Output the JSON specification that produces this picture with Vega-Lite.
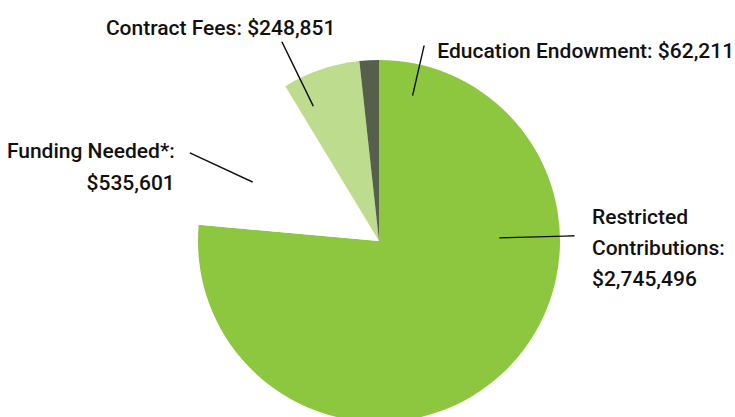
{
  "$schema": "https://vega.github.io/schema/vega-lite/v6.json",
  "width": 712,
  "height": 352,
  "autosize": {"type": "none"},
  "padding": {"left": 23, "top": 65, "right": 0, "bottom": 0},
  "background": "white",
  "view": {"stroke": null},
  "config": {
    "text": {"font": "Roboto", "fontSize": 21, "fontWeight": 500, "lineBreak": "\n", "lineHeight": 31, "color": "#111111"}
  },
  "data": {
    "values": [
      {"category": "Restricted Contributions", "value": 2745496, "label": "Restricted\nContributions:\n$2,745,496", "rank": 1},
      {"category": "Funding Needed*", "value": 535601, "label": "Funding Needed*:\n$535,601", "rank": 2},
      {"category": "Contract Fees", "value": 248851, "label": "Contract Fees: $248,851", "rank": 3},
      {"category": "Education Endowment", "value": 62211, "label": "Education Endowment: $62,211", "rank": 4}
    ]
  },
  "transform": [
    {"stack": "value", "groupby": [], "sort": [{"field": "rank", "order": "ascending"}], "as": ["start", "end"]}
  ],
  "layer": [
    {
      "mark": {"type": "arc", "radius": 181},
      "encoding": {
        "theta": {"field": "value", "type": "quantitative", "stack": true, "scale": {"nice": false, "zero": true}},
        "order": {"field": "rank", "type": "quantitative"},
        "color": {
          "field": "category", "type": "nominal", "legend": null,
          "scale": {
            "domain": ["Restricted Contributions", "Funding Needed*", "Contract Fees", "Education Endowment"],
            "range": ["#8dc63f", "#ffffff", "#bddc8e", "#555f4c"]
          }
        }
      }
    },
    {
      "transform": [{"filter": "datum.category == 'Restricted Contributions'"}],
      "mark": {"type": "arc", "radius": 195, "radius2": 121, "thetaOffset": 1.54462, "theta2Offset": -3.2576, "fill": "transparent", "stroke": "#111111", "strokeWidth": 1.4},
      "encoding": {"theta": {"field": "start", "type": "quantitative"}, "theta2": {"field": "end"}}
    },
    {
      "transform": [{"filter": "datum.category == 'Funding Needed*'"}],
      "mark": {"type": "arc", "radius": 208, "radius2": 140, "thetaOffset": 0.3465, "theta2Offset": -0.59035, "fill": "transparent", "stroke": "#111111", "strokeWidth": 1.4},
      "encoding": {"theta": {"field": "start", "type": "quantitative"}, "theta2": {"field": "end"}}
    },
    {
      "transform": [{"filter": "datum.category == 'Contract Fees'"}],
      "mark": {"type": "arc", "radius": 221, "radius2": 150, "thetaOffset": 0.09058, "theta2Offset": -0.3447, "fill": "transparent", "stroke": "#111111", "strokeWidth": 1.4},
      "encoding": {"theta": {"field": "start", "type": "quantitative"}, "theta2": {"field": "end"}}
    },
    {
      "transform": [{"filter": "datum.category == 'Education Endowment'"}],
      "mark": {"type": "arc", "radius": 200, "radius2": 150, "thetaOffset": 0.33571, "theta2Offset": 0.22689, "fill": "transparent", "stroke": "#111111", "strokeWidth": 1.4},
      "encoding": {"theta": {"field": "start", "type": "quantitative"}, "theta2": {"field": "end"}}
    },
    {
      "transform": [{"filter": "datum.category == 'Restricted Contributions'"}],
      "mark": {"type": "text", "radius": 190, "align": "left", "baseline": "alphabetic", "dx": 213, "dy": 173},
      "encoding": {"theta": {"field": "start", "type": "quantitative"}, "text": {"field": "label"}}
    },
    {
      "transform": [{"filter": "datum.category == 'Funding Needed*'"}],
      "mark": {"type": "text", "radius": 190, "align": "right", "baseline": "alphabetic", "dx": -15, "dy": -66, "lineHeight": 32},
      "encoding": {"theta": {"field": "start", "type": "quantitative"}, "text": {"field": "label"}}
    },
    {
      "transform": [{"filter": "datum.category == 'Contract Fees'"}],
      "mark": {"type": "text", "radius": 190, "align": "center", "baseline": "alphabetic", "dx": -60, "dy": -43},
      "encoding": {"theta": {"field": "start", "type": "quantitative"}, "text": {"field": "label"}}
    },
    {
      "transform": [{"filter": "datum.category == 'Education Endowment'"}],
      "mark": {"type": "text", "radius": 190, "align": "left", "baseline": "alphabetic", "dx": 79, "dy": 6},
      "encoding": {"theta": {"field": "start", "type": "quantitative"}, "text": {"field": "label"}}
    }
  ]
}
